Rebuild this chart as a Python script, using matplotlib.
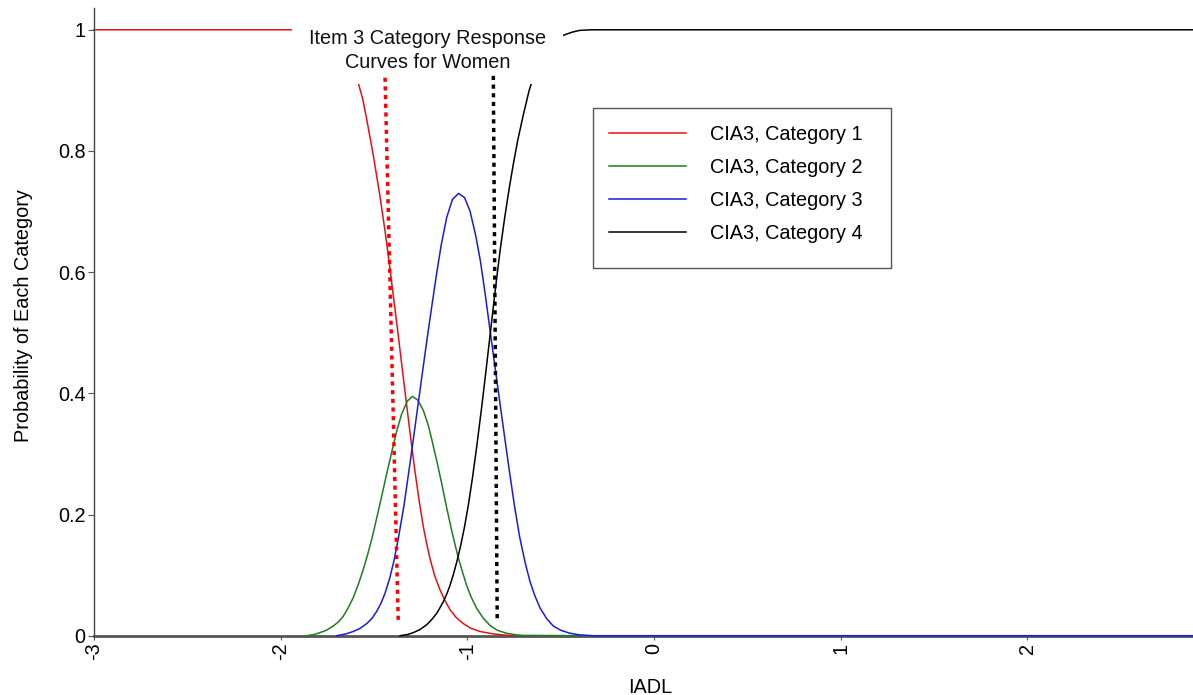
import matplotlib
matplotlib.use("Agg")
import matplotlib.pyplot as plt
from matplotlib.patches import Rectangle

plt.rcParams['font.family'] = ['Liberation Sans', 'DejaVu Sans']

# ---- data ----
cat1_x = [-3.0, -1.94, -1.80, -1.70, -1.64, -1.61, -1.584, -1.56, -1.539, -1.504,
          -1.468, -1.441, -1.415, -1.393, -1.370, -1.347, -1.325, -1.303, -1.281,
          -1.258, -1.236, -1.218, -1.200, -1.175, -1.147, -1.120, -1.093, -1.060,
          -1.022, -0.980, -0.933, -0.861, -0.800, -0.750]
cat1_y = [1.0, 1.0, 0.993, 0.975, 0.952, 0.935, 0.912, 0.885, 0.852, 0.793,
          0.725, 0.668, 0.607, 0.552, 0.495, 0.436, 0.380, 0.325, 0.272,
          0.222, 0.180, 0.152, 0.127, 0.099, 0.076, 0.058, 0.043, 0.030,
          0.020, 0.012, 0.007, 0.003, 0.001, 0.0]

cat2_x = [-1.861, -1.820, -1.790, -1.755, -1.718, -1.690, -1.665, -1.640, -1.611,
          -1.585, -1.560, -1.535, -1.510, -1.485, -1.459, -1.433, -1.406, -1.380,
          -1.352, -1.322, -1.295, -1.266, -1.236, -1.210, -1.190, -1.160, -1.138,
          -1.110, -1.085, -1.065, -1.047, -1.025, -1.004, -0.980, -0.950, -0.915,
          -0.879, -0.840, -0.790, -0.740, -0.700, -0.400]
cat2_y = [0.0, 0.002, 0.005, 0.009, 0.016, 0.023, 0.032, 0.045, 0.063,
          0.084, 0.107, 0.133, 0.162, 0.195, 0.230, 0.266, 0.302, 0.336,
          0.366, 0.387, 0.395, 0.389, 0.372, 0.348, 0.323, 0.283, 0.252,
          0.210, 0.175, 0.149, 0.127, 0.104, 0.083, 0.064, 0.045, 0.029,
          0.017, 0.009, 0.004, 0.0015, 0.0005, 0.0]

cat3_x = [-1.700, -1.650, -1.611, -1.575, -1.539, -1.510, -1.486, -1.462, -1.441,
          -1.415, -1.393, -1.370, -1.340, -1.307, -1.290, -1.263, -1.240, -1.218,
          -1.190, -1.165, -1.140, -1.111, -1.080, -1.047, -1.015, -0.985, -0.955,
          -0.930, -0.905, -0.879, -0.857, -0.834, -0.800, -0.775, -0.748, -0.720,
          -0.690, -0.665, -0.640, -0.611, -0.575, -0.540, -0.500, -0.450, -0.400,
          -0.330, 2.887]
cat3_y = [0.0, 0.003, 0.007, 0.012, 0.020, 0.029, 0.040, 0.054, 0.070,
          0.096, 0.124, 0.160, 0.214, 0.285, 0.323, 0.384, 0.436, 0.485,
          0.545, 0.597, 0.645, 0.690, 0.720, 0.730, 0.723, 0.700, 0.660,
          0.618, 0.565, 0.505, 0.455, 0.403, 0.327, 0.272, 0.215, 0.163,
          0.120, 0.090, 0.067, 0.046, 0.028, 0.016, 0.009, 0.004, 0.0015,
          0.0, 0.0]

cat4_x = [-1.361, -1.320, -1.290, -1.255, -1.218, -1.190, -1.164, -1.147, -1.129,
          -1.110, -1.093, -1.075, -1.054, -1.035, -1.015, -0.995, -0.972, -0.950,
          -0.923, -0.900, -0.875, -0.850, -0.825, -0.800, -0.775, -0.754, -0.730,
          -0.700, -0.669, -0.640, -0.600, -0.550, -0.500, -0.486, -0.440, -0.400,
          -0.340, 2.887]
cat4_y = [0.0, 0.002, 0.005, 0.010, 0.018, 0.027, 0.037, 0.046, 0.056,
          0.069, 0.083, 0.101, 0.125, 0.150, 0.180, 0.215, 0.262, 0.312,
          0.378, 0.438, 0.505, 0.572, 0.635, 0.690, 0.740, 0.778, 0.818,
          0.860, 0.900, 0.928, 0.955, 0.976, 0.988, 0.991, 0.996, 0.999,
          1.0, 1.0]

thr1_x = [-1.441, -1.370]
thr1_y = [0.921, 0.020]
thr2_x = [-0.861, -0.840]
thr2_y = [0.924, 0.023]

labels = ['CIA3, Category 1', 'CIA3, Category 2', 'CIA3, Category 3', 'CIA3, Category 4']
colors = ['#e81010', '#1f7d1f', '#1a1ae0', '#000000']
xticks = [-3, -2, -1, 0, 1, 2]
yticks = [0, 0.2, 0.4, 0.6, 0.8, 1]
ytick_labels = ['0', '0.2', '0.4', '0.6', '0.8', '1']
title_text = 'Item 3 Category Response\nCurves for Women'

# ---- figure ----
W, H = 1193, 695
fig = plt.figure(figsize=(W / 100, H / 100), dpi=100)
ax = fig.add_axes([94 / W, (H - 635.7) / H, 1099 / W, 627.7 / H])

FS = 14.3
series = [(cat1_x, cat1_y), (cat2_x, cat2_y), (cat3_x, cat3_y), (cat4_x, cat4_y)]
for (xs, ys), c, lab in zip(series, colors, labels):
    ax.plot(xs, ys, color=c, lw=1.1, label=lab, zorder=2, clip_on=False,
            solid_joinstyle='round')

# white box behind the title that hides the curve tops
ax.add_patch(Rectangle((-1.94, 0.91), 1.454, 0.3, facecolor='white',
                       edgecolor='none', zorder=3, clip_on=False))

dash = dict(lw=2.5, dashes=(1.2, 1.3), dash_capstyle='butt', zorder=4)
ax.plot(thr1_x, thr1_y, color='#ff0000', **dash)
ax.plot(thr2_x, thr2_y, color='#000000', **dash)

ax.text(-1.214, 0.966, title_text, ha='center', va='center', fontsize=FS,
        color='#111111', zorder=5, linespacing=1.31)

ax.set_xlim(-3, 2.887)
ax.set_ylim(0, 1.036)
ax.set_xticks(xticks)
ax.set_xticklabels([str(t) for t in xticks], rotation=90, fontsize=FS)
ax.set_yticks(yticks)
ax.set_yticklabels(ytick_labels, fontsize=FS)

for s in ['top', 'right']:
    ax.spines[s].set_visible(False)
ax.spines['left'].set_color('#444444')
ax.spines['left'].set_linewidth(1.0)
ax.spines['bottom'].set_color('#555555')
ax.spines['bottom'].set_linewidth(2.0)
ax.spines['bottom'].set_zorder(1)
ax.tick_params(axis='y', direction='out', length=4.5, width=0.8, color='#555555', pad=1.5)
ax.tick_params(axis='x', direction='out', length=3, width=0.8, color='#555555', pad=2)

ax.set_xlabel('IADL', fontsize=FS)
ax.xaxis.set_label_coords((650 - 94) / 1099, (635.7 - 678) / 627.7)
ax.set_ylabel('Probability of Each Category', fontsize=FS)
ax.yaxis.set_label_coords((33 - 94) / 1099, (635.7 - 316) / 627.7)

# legend frame + legend
ax.add_patch(Rectangle((593 / W, (H - 268) / H), 298 / W, 160 / H,
                       transform=fig.transFigure, facecolor='white',
                       edgecolor='#555555', lw=1.0, zorder=6, clip_on=False))
leg = ax.legend(loc='upper left', bbox_to_anchor=(609 / W, (H - 125) / H),
                bbox_transform=fig.transFigure, frameon=False, fontsize=FS,
                handlelength=3.87, handletextpad=1.2, labelspacing=0.71,
                borderpad=0, borderaxespad=0)
leg.set_zorder(7)

fig.savefig('out.png', dpi=100)
